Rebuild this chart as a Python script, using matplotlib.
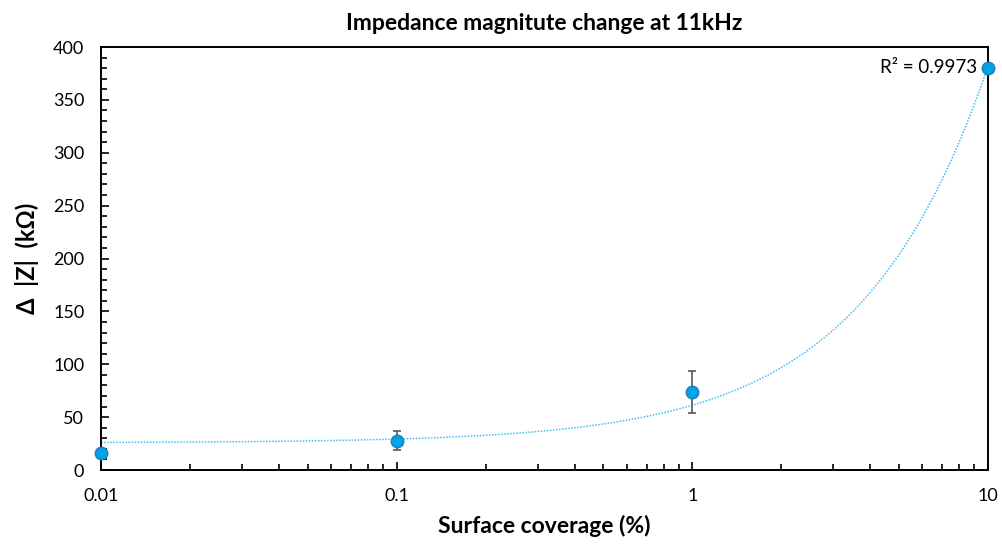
import numpy as np
import matplotlib.pyplot as plt
from matplotlib.ticker import LogLocator, MultipleLocator, FixedLocator, FixedFormatter

plt.rcParams['font.family'] = ['Lato', 'DejaVu Sans']

coverage = [0.01, 0.1, 1, 10]
delta_z = [16.4, 27.7, 73.8, 380.4]
delta_z_err = [2.0, 9.0, 19.5, 2.0]
x_tick_labels = ['0.01', '0.1', '1', '10']

fig = plt.figure(figsize=(10.02, 5.44), dpi=100)
ax = fig.add_axes([0.1008, 0.136, 0.8852, 0.7776])

# linear trendline (as in the spreadsheet), drawn on log x axis
slope, intercept = np.polyfit(coverage, delta_z, 1)
xs = np.logspace(-2, 1, 400)
ax.plot(xs, slope * xs + intercept, linestyle=(0, (1, 1)), color='#3EC1F3', lw=1.1, zorder=2)

ax.errorbar(coverage, delta_z, yerr=delta_z_err, fmt='none', ecolor='#595959',
            elinewidth=1.2, capsize=3, capthick=1.2, zorder=3)
ax.plot(coverage, delta_z, 'o', ms=9, mfc='#00A2E8', mec='#1E7FC0', mew=1, zorder=4,
        clip_on=False)

ax.annotate('R² = 0.9973', xy=(10, delta_z[3]), xytext=(-8, 0), textcoords='offset points',
            ha='right', va='center', fontsize=13.5)

ax.set_xscale('log')
ax.set_xlim(0.01, 10)
ax.set_ylim(0, 400)
ax.xaxis.set_major_locator(FixedLocator(coverage))
ax.xaxis.set_major_formatter(FixedFormatter(x_tick_labels))
ax.xaxis.set_minor_locator(LogLocator(base=10, subs=np.arange(2, 10)))
ax.yaxis.set_major_locator(MultipleLocator(50))
ax.yaxis.set_minor_locator(MultipleLocator(10))

ax.tick_params(which='both', direction='in', top=False, right=False, labelsize=13, width=1.2)
ax.tick_params(axis='x', which='both', pad=13)
ax.tick_params(axis='y', which='both', pad=12)
ax.tick_params(which='major', length=6)
ax.tick_params(which='minor', length=4)
for s in ax.spines.values():
    s.set_linewidth(1.4)

ax.set_title('Impedance magnitute change at 11kHz', fontsize=16.5, fontweight='bold', pad=12)
ax.set_xlabel('Surface coverage (%)', fontsize=16.5, fontweight='bold', labelpad=8)
ax.set_ylabel('Δ  |Z|  (kΩ)', fontsize=17, fontweight='bold', labelpad=10)

fig.savefig('out.png', dpi=100)
